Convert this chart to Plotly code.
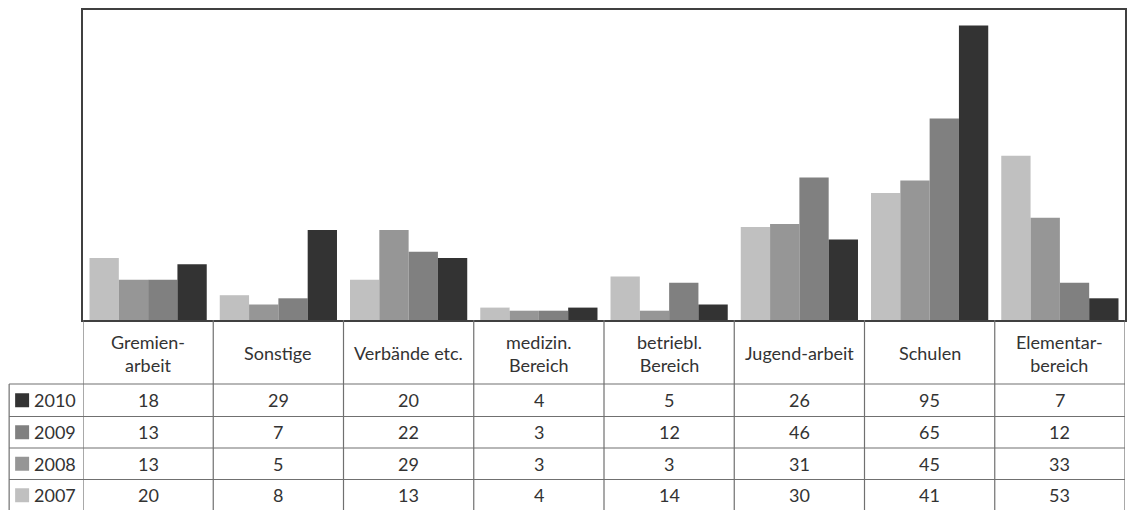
import plotly.graph_objects as go

categories = ["Gremien-<br>arbeit", "Sonstige", "Verbände etc.", "medizin.<br>Bereich",
              "betriebl.<br>Bereich", "Jugend-arbeit", "Schulen", "Elementar-<br>bereich"]
years = ["2007", "2008", "2009", "2010"]
v2007 = [20, 8, 13, 4, 14, 30, 41, 53]
v2008 = [13, 5, 29, 3, 3, 31, 45, 33]
v2009 = [13, 7, 22, 3, 12, 46, 65, 12]
v2010 = [18, 29, 20, 4, 5, 26, 95, 7]
colors = {"2007": "#c0c0c0", "2008": "#969696", "2009": "#808080", "2010": "#333333"}
series = {"2007": v2007, "2008": v2008, "2009": v2009, "2010": v2010}
table_order = ["2010", "2009", "2008", "2007"]

W, H = 1127, 510
L, R, T, B = 83, 0, 10, 190
PH = H - T - B
PW = W - L - R
FONT = "Lato"
FS = 18
TXT = "#333333"
GRID = "#707070"

def py(p):
    return (T + PH - p) / PH

def px(p):
    return (p - L) / PW

fig = go.Figure()
for y in years:
    fig.add_trace(go.Bar(x=list(range(len(categories))), y=series[y], name=y,
                         marker=dict(color=colors[y], line=dict(width=0)),
                         showlegend=False))

ann = []
shapes = []
# header labels
for i, c in enumerate(categories):
    ann.append(dict(x=i, y=py(353), xref="x", yref="paper", text=c, showarrow=False,
                    font=dict(family=FONT, size=FS, color=TXT), align="center",
                    xanchor="center", yanchor="middle"))
row_tops = [384, 416.5, 448, 479.5, 511]
for r, yr in enumerate(table_order):
    yc = (row_tops[r] + row_tops[r + 1]) / 2
    for i, v in enumerate(series[yr]):
        ann.append(dict(x=i, y=py(yc), xref="x", yref="paper", text=str(v), showarrow=False,
                        font=dict(family=FONT, size=FS, color=TXT),
                        xanchor="center", yanchor="middle"))
    ann.append(dict(x=px(32), y=py(yc), xref="paper", yref="paper", text=yr, showarrow=False,
                    font=dict(family=FONT, size=FS, color=TXT),
                    xanchor="left", yanchor="middle"))
    shapes.append(dict(type="rect", xref="paper", yref="paper",
                       x0=px(15), x1=px(29), y0=py(yc - 7), y1=py(yc + 7),
                       fillcolor=colors[yr], line=dict(width=0)))
# horizontal table lines
for yt in row_tops[:4]:
    shapes.append(dict(type="line", xref="paper", yref="paper", x0=px(9), x1=1.0,
                       y0=py(yt), y1=py(yt), line=dict(color=GRID, width=1.2)))
# vertical lines
for i in range(len(categories) + 1):
    shapes.append(dict(type="line", xref="x", yref="paper", x0=i - 0.5, x1=i - 0.5,
                       y0=py(320), y1=py(511), line=dict(color=GRID, width=1.2)))
shapes.append(dict(type="line", xref="paper", yref="paper", x0=px(9), x1=px(9),
                   y0=py(384), y1=py(511), line=dict(color=GRID, width=1.2)))

fig.update_layout(
    width=W, height=H, margin=dict(l=L, r=R, t=T, b=B),
    barmode="group", bargap=0.1, bargroupgap=0,
    plot_bgcolor="white", paper_bgcolor="white",
    xaxis=dict(range=[-0.5, 7.5], showticklabels=False, ticks="", showgrid=False,
               zeroline=False, showline=True, mirror=True, linecolor="#404040", linewidth=2),
    yaxis=dict(range=[0, 100], showticklabels=False, ticks="", showgrid=False,
               zeroline=False, showline=True, mirror=True, linecolor="#404040", linewidth=2),
    annotations=ann, shapes=shapes,
)
fig.write_html("out.html", config={"displayModeBar": False},
               post_script="document.body.style.margin='0';document.body.style.overflow='hidden';")
